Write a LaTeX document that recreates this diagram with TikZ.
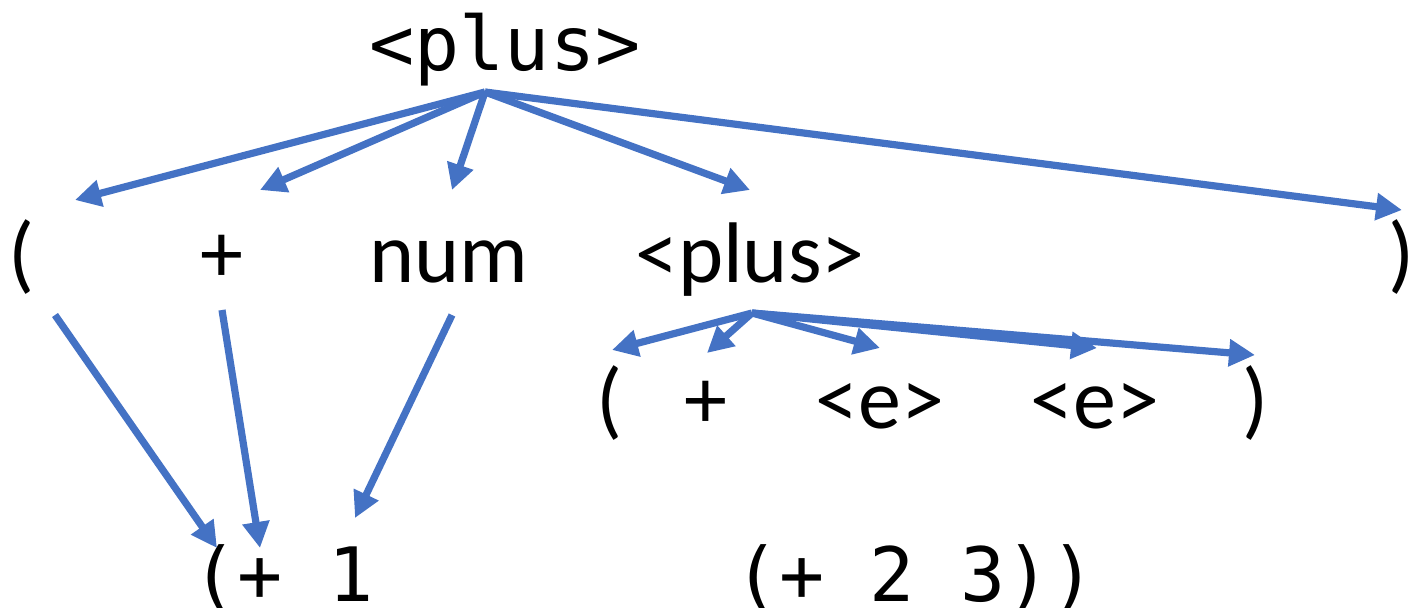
\documentclass[tikz,border=0pt]{standalone}
\usepackage{fontspec}
\setmainfont{Carlito}
\newfontfamily\codefont{DejaVu Sans Mono}
\usetikzlibrary{arrows.meta,positioning}
\definecolor{treeblue}{HTML}{4472C4}
\tikzset{
  sym/.style={inner sep=0pt, anchor=base, font=\fontsize{43}{50}\selectfont},
  code/.style={inner sep=0pt, anchor=base, font=\codefont\fontsize{37.5}{42}\selectfont},
  derive/.style={-{Triangle[length=13pt,width=13pt]}, line width=3.6pt, treeblue},
}

\begin{document}
\begin{tikzpicture}[x=0.5pt,y=-0.5pt]
\path[use as bounding box] (0,0) rectangle (1414,607);

% start symbol
\node[code] (root) at (505,70) {<plus>};
\coordinate (fork) at ([shift={(-20,22)}]root.base);

% first expansion
\node[sym] (lp) at (22,282) {(};
\node[sym] (pl) at (222,282) {+};
\node[sym] (num) at (449,282) {num};
\node[sym] (sub) at (750,282) {<plus>};
\node[sym] (rp) at (1402,282) {)};

\foreach \kid/\dx/\dy in {lp/53/-82, pl/38/-92, num/3/-92, sub/0/-92, rp/0/-72}
  \draw[derive] (fork) -- ([shift={(\dx,\dy)}]\kid.base);

% nested <plus>
\coordinate (subfork) at ([shift={(2,31)}]sub.base);
\node[sym] (lp2) at (610,428) {(};
\node[sym] (pl2) at (706,428) {+};
\node[sym] (e1) at (880,428) {<e>};
\node[sym] (e2) at (1095,428) {<e>};
\node[sym] (rp2) at (1256,428) {)};

\foreach \kid/\dx/\dy in {lp2/2/-78, pl2/1/-75, e1/0/-80, e2/2/-80, rp2/-1/-73}
  \draw[derive] (subfork) -- ([shift={(\dx,\dy)}]\kid.base);

% input tokens
\node[code] (in1) at (283,601) {(+ 1};
\node[code] (in2) at (915,601) {(+ 2 3))};

\draw[derive] ([shift={(33,33)}]lp.base) -- ([shift={(-66,-53)}]in1.base);
\draw[derive] ([shift={(0,28)}]pl.base) -- ([shift={(-23,-53)}]in1.base);
\draw[derive] ([shift={(3,33)}]num.base) -- ([shift={(72,-83)}]in1.base);

\end{tikzpicture}
\end{document}
